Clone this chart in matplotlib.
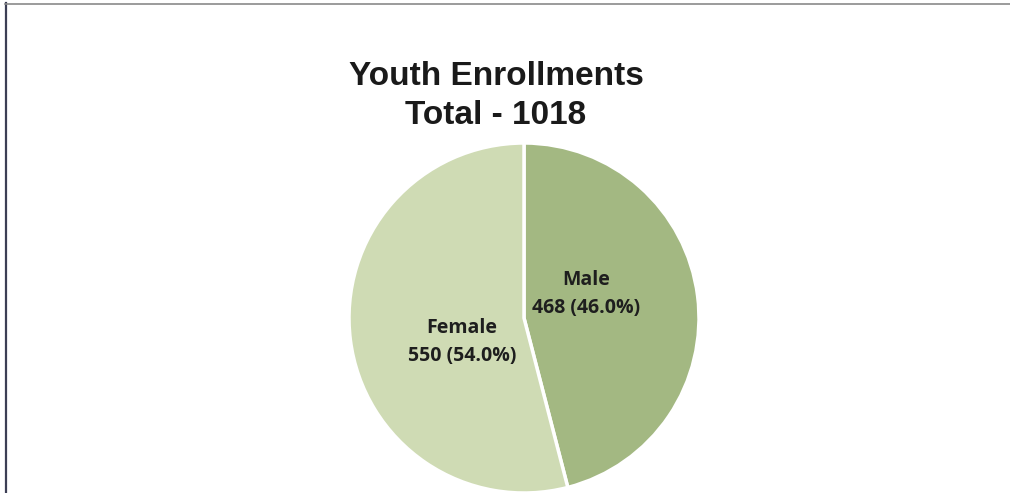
import numpy as np
import matplotlib.pyplot as plt
from matplotlib.lines import Line2D

categories = ["Male", "Female"]
counts = [468, 550]
colors = ["#a3b882", "#cfdbb4"]
total = sum(counts)
title = "Youth Enrollments\nTotal - {}".format(total)

fig = plt.figure(figsize=(10.10, 4.93), dpi=100)
fig.patch.set_facecolor("white")

# frame lines along the top and left edge
fig.add_artist(Line2D([5.5 / 1010, 5.5 / 1010], [0, 1 - 3 / 493],
                      transform=fig.transFigure, color="#3c3f55", lw=1.6))
fig.add_artist(Line2D([5 / 1010, 1], [1 - 3.5 / 493, 1 - 3.5 / 493],
                      transform=fig.transFigure, color="#8a8a8a", lw=1.2))

ax = fig.add_axes([349 / 1010, 0.0, 350 / 1010, 350 / 493])
wedges, _ = ax.pie(counts, colors=colors, startangle=90, counterclock=False,
                   wedgeprops=dict(edgecolor="white", linewidth=2.5))
for w in wedges:
    w.set_clip_on(False)
ax.set_xlim(-1, 1)
ax.set_ylim(-1, 1)
ax.set_aspect("equal")
ax.axis("off")

# data labels sit a little counter-clockwise from each wedge's middle
for w, name, n in zip(wedges, categories, counts):
    mid = np.deg2rad((w.theta1 + w.theta2) / 2 + 14)
    r = 0.38
    ax.text(r * np.cos(mid), r * np.sin(mid),
            "{}\n{} ({:.1f}%)".format(name, n, 100 * n / total),
            ha="center", va="center", fontsize=14, fontweight="bold",
            family="Open Sans", color="#1e1e1e", linespacing=1.5)

fig.text(496 / 1010, 1 - 96 / 493, title, ha="center", va="center",
         fontsize=24, fontweight="bold", family="Liberation Sans",
         color="#1a1a1a", linespacing=1.3)

fig.savefig("out.png", dpi=100, facecolor="white")
